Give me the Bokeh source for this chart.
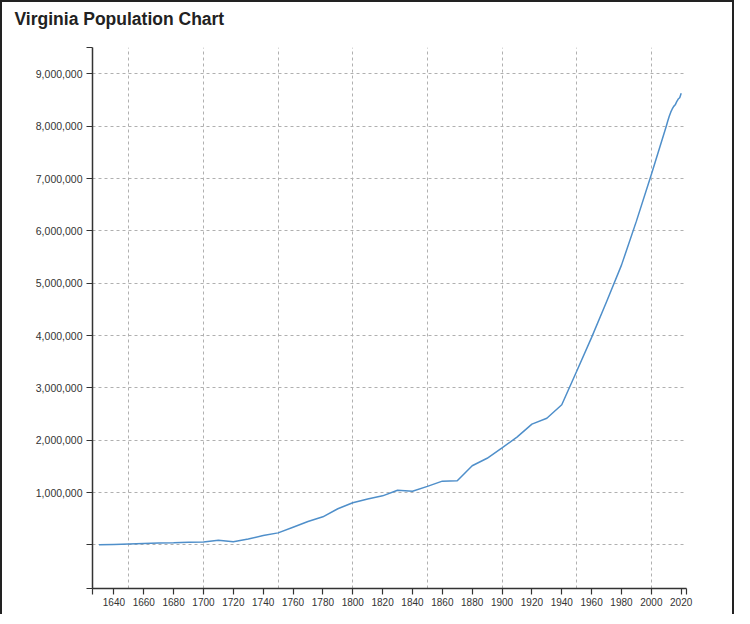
from bokeh.plotting import figure
from bokeh.models import FixedTicker, NumeralTickFormatter, Range1d, Title
from bokeh.embed import file_html
from bokeh.resources import INLINE

years = [1630, 1640, 1650, 1660, 1670, 1680, 1690, 1700, 1710, 1720, 1730, 1740,
         1750, 1760, 1770, 1780, 1790, 1800, 1810, 1820, 1830, 1840, 1850, 1860,
         1870, 1880, 1890, 1900, 1910, 1920, 1930, 1940, 1950, 1960, 1970, 1980,
         1990, 2000, 2010, 2011, 2012, 2013, 2014, 2015, 2016, 2017, 2018, 2019, 2020]
population = [2500, 10442, 18731, 27020, 35309, 43596, 53046, 58560, 90000, 62000,
              114000, 180440, 231033, 339726, 447016, 538004, 691737, 807557,
              877683, 938261, 1044054, 1025227, 1119348, 1219630, 1225163,
              1512565, 1655980, 1854184, 2061612, 2309187, 2421851, 2677773,
              3318680, 3966949, 4648494, 5346818, 6187358, 7078515, 8001024,
              8100000, 8190000, 8270000, 8330000, 8380000, 8410000, 8470000,
              8520000, 8545000, 8631393]
x_tick_years = list(range(1640, 2021, 20))
x_grid_years = list(range(1650, 2001, 50))
y_tick_values = list(range(0, 9000001, 1000000))
title_text = "Virginia Population Chart"

x_start, x_end = 1625.67, 2023.55
y_start, y_end = -832000, 9505000

p = figure(width=734, height=614, output_backend="svg", toolbar_location=None,
           x_range=Range1d(x_start, x_end), y_range=Range1d(y_start, y_end),
           title=title_text,
           min_border_left=90, min_border_right=50, min_border_top=43,
           min_border_bottom=28)
p.styles = {"border-top": "2px solid #222", "border-left": "2px solid #222",
            "border-right": "2px solid #222"}
p.outline_line_color = None
p.background_fill_color = "white"
p.border_fill_color = "white"

p.title.text_font = "Liberation Sans"
p.title.text_font_size = "17.5px"
p.title.text_font_style = "bold"
p.title.text_color = "#222"
p.title.align = "left"
p.title.vertical_align = "top"
p.title.offset = -78
p.title.standoff = 12

# spacer between the title and the plot frame
p.add_layout(Title(text=" ", text_font_size="1px", standoff=8), "above")

p.line(years, population, line_color="#4f8fca", line_width=1.5)

# axes
for ax in (p.xaxis, p.yaxis):
    ax.axis_line_color = "#333"
    ax.axis_line_width = 1.5
    ax.major_tick_line_color = "#333"
    ax.major_tick_line_width = 1.2
    ax.major_tick_out = 6
    ax.major_tick_in = 0
    ax.minor_tick_line_color = None
    ax.major_label_text_font = "Liberation Sans"
    ax.major_label_text_color = "#333"

p.xaxis.ticker = FixedTicker(ticks=[x_start] + x_tick_years + [x_end])
p.xaxis.major_label_overrides = {x_start: "", x_end: "",
                                 **{y: str(y) for y in x_tick_years}}
p.xaxis.major_label_text_font_size = "10px"
p.xaxis.major_label_standoff = 3

p.yaxis.ticker = FixedTicker(ticks=[y_start] + y_tick_values + [y_end])
p.yaxis.formatter = NumeralTickFormatter(format="0,0")
p.yaxis.major_label_overrides = {y_start: "", y_end: "", 0: ""}
p.yaxis.major_label_text_font_size = "10.5px"
p.yaxis.major_label_standoff = 4

# grids
p.xgrid.ticker = FixedTicker(ticks=x_grid_years)
p.ygrid.ticker = FixedTicker(ticks=y_tick_values)
for g in (p.xgrid, p.ygrid):
    g.grid_line_color = "#b0b0b0"
    g.grid_line_dash = "3 3"
    g.grid_line_width = 1

open("out.html", "w").write(file_html(p, INLINE))
